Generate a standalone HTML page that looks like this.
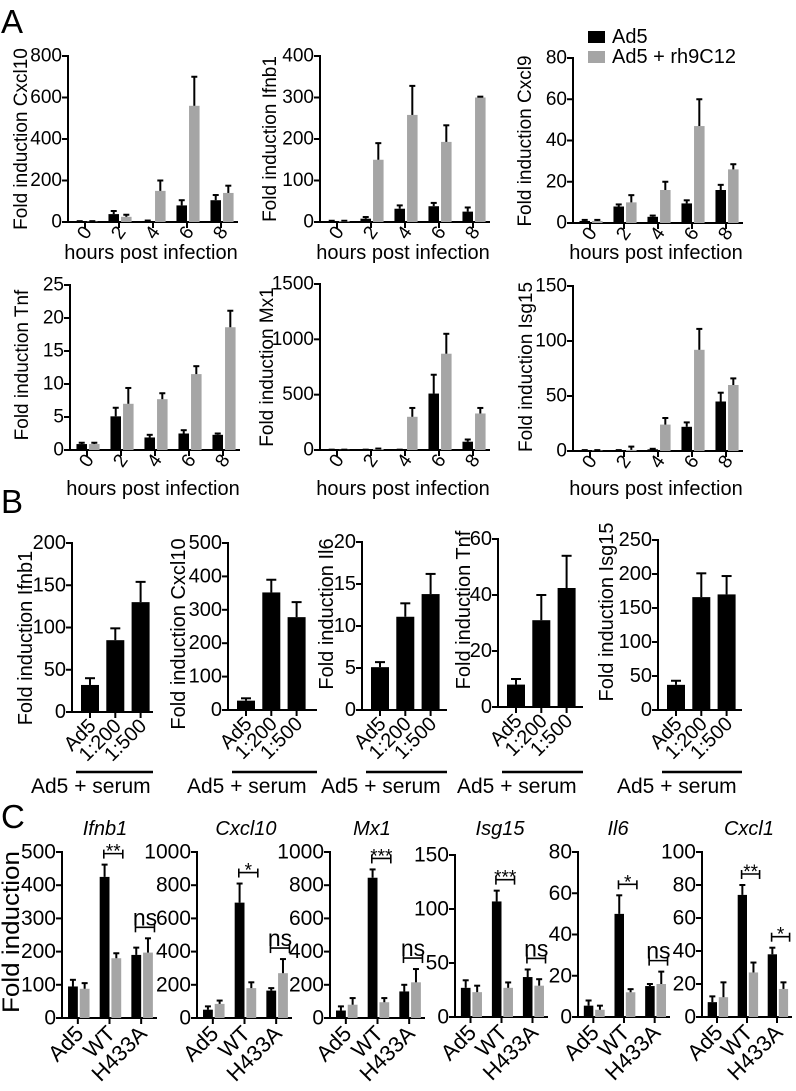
<!DOCTYPE html>
<html><head><meta charset="utf-8">
<style>
html,body{margin:0;padding:0;background:#fff;}
svg{display:block;font-family:"Liberation Sans",Arial,sans-serif;}
</style></head>
<body>
<svg id="fig" width="796" height="1091" viewBox="0 0 796 1091" xmlns="http://www.w3.org/2000/svg">
<rect width="796" height="1091" fill="#fff"/>
<text x="1" y="33" font-size="33">A</text>
<text x="1" y="513" font-size="33">B</text>
<text x="1" y="828" font-size="33">C</text>
<g>
<rect x="588" y="31" width="17" height="12" fill="#000"/>
<text x="612" y="43" font-size="20">Ad5</text>
<rect x="588" y="51" width="17" height="12" fill="#a5a5a5"/>
<text x="612" y="63" font-size="20">Ad5 + rh9C12</text>
</g>
</svg>
<script>
// ---------- data ----------
const hours = ['0','2','4','6','8'];
const A1_ad5 = [2,38,5,80,105];     const A1_ad5_err = [2,15,2,25,25];
const A1_rh  = [2,25,150,560,140];  const A1_rh_err  = [2,10,50,140,35];
const A2_ad5 = [2,8,32,38,25];      const A2_ad5_err = [1,4,8,8,10];
const A2_rh  = [2,150,258,193,300]; const A2_rh_err  = [1,40,70,40,2];
const A3_ad5 = [1,8,3,9.5,16];      const A3_ad5_err = [0.5,1,0.6,1.5,2.5];
const A3_rh  = [1,10,16,47,26];     const A3_rh_err  = [0.5,3.5,4,13,2.5];
const A4_ad5 = [0.9,5.1,1.9,2.5,2.3]; const A4_ad5_err = [0.2,1.3,0.4,0.5,0.2];
const A4_rh  = [0.9,7,7.7,11.5,18.6]; const A4_rh_err  = [0.2,2.4,0.9,1.2,2.5];
const A5_ad5 = [2,2,2,510,75];      const A5_ad5_err = [1,1,1,170,20];
const A5_rh  = [2,10,300,870,330];  const A5_rh_err  = [1,3,80,180,50];
const A6_ad5 = [0.5,0.5,1.5,22,45]; const A6_ad5_err = [0.3,0.3,0.5,4,8];
const A6_rh  = [0.5,1,24,92,60];    const A6_rh_err  = [0.3,3,6,19,6];

const serumCats = ['Ad5','1:200','1:500'];
const B1_vals = [32,85,130];   const B1_err = [8,14,24];
const B2_vals = [28,352,278];  const B2_err = [7,38,45];
const B3_vals = [5.1,11.1,13.8]; const B3_err = [0.6,1.6,2.4];
const B4_vals = [8,31,42.5];   const B4_err = [2,9,11.5];
const B5_vals = [37,166,170];  const B5_err = [6,35,27];

const virusCats = ['Ad5','WT','H433A'];
const C1_ad5 = [95,425,190];  const C1_ad5_err = [20,37,22];
const C1_rh  = [88,180,197];  const C1_rh_err  = [17,15,43];  const C1_sig = ['','**','ns'];
const C2_ad5 = [50,695,165];  const C2_ad5_err = [20,115,15];
const C2_rh  = [85,180,270];  const C2_rh_err  = [20,35,85];  const C2_sig = ['','*','ns'];
const C3_ad5 = [45,845,160];  const C3_ad5_err = [25,50,40];
const C3_rh  = [80,95,215];   const C3_rh_err  = [40,25,80];  const C3_sig = ['','***','ns'];
const C4_ad5 = [27,107,37];   const C4_ad5_err = [7,10,7];
const C4_rh  = [23,27,29];    const C4_rh_err  = [6,5,6];     const C4_sig = ['','***','ns'];
const C5_ad5 = [5.5,50,15];   const C5_ad5_err = [2.5,9,1];
const C5_rh  = [3.5,12,16];   const C5_rh_err  = [2,1.5,6];   const C5_sig = ['','*','ns'];
const C6_ad5 = [9,74,38];     const C6_ad5_err = [3.5,6,4];
const C6_rh  = [12,27,17];    const C6_rh_err  = [9,6,4];     const C6_sig = ['','**','*'];

// ---------- helpers ----------
const svg = document.getElementById('fig');
const NS = 'http://www.w3.org/2000/svg';
function mk(tag, attrs, parent){
  const e = document.createElementNS(NS, tag);
  for (const k in attrs) e.setAttribute(k, attrs[k]);
  (parent||svg).appendChild(e);
  return e;
}
function line(p, x1,y1,x2,y2,w){ return mk('line',{x1:x1,y1:y1,x2:x2,y2:y2,stroke:'#000','stroke-width':w||2},p); }
function text(p, x,y,s,fs,extra){
  const t = mk('text', Object.assign({x:x,y:y,'font-size':fs}, extra||{}), p);
  t.textContent = s;
  return t;
}

function axes(g, L, max, step, fs){
  const ys = v => L.zero - v/max*(L.zero-L.top);
  const ax = line(g, L.x0, L.top-1, L.x0, L.zero+1);
  
  
  const xa = line(g, L.x0-1, L.zero, L.x1, L.zero);
  
  
  for (let v=0; v<=max+1e-9; v+=step){
    const y = ys(v);
    line(g, L.x0-6, y, L.x0, y);
    const t = text(g, L.x0-6, y, String(Math.round(v*100)/100), fs, {'text-anchor':'end','dominant-baseline':'central'});
    
    
  }
  return ys;
}
function errBar(g, cx, yTop, yErr, cap){
  line(g, cx, yTop, cx, yErr);
  line(g, cx-cap, yErr, cx+cap, yErr);
}
function ytitle(g, s, x, cy, fs, len){
  const ex = {'text-anchor':'middle', transform:'rotate(-90 '+x+' '+cy+')'};
  if (len){ ex.textLength = len; ex.lengthAdjust = 'spacingAndGlyphs'; }
  const t = text(g, x, cy, s, fs, ex);
  
  
}

// grouped (black/grey) chart
function grouped(name, L, cats, blk, blkE, gry, gryE, max, step, o){
  const g = mk('g', {});
  
  
  const ys = axes(g, L, max, step, o.fs);
  const W = (L.x1 - L.x0)/cats.length;
  for (let i=0;i<cats.length;i++){
    const gx = L.x0 + i*W;
    const bx = gx + 0.19*W, bw = 0.31*W;
    const qx = gx + 0.56*W;
    const yb = ys(blk[i]);
    const r1 = mk('rect',{x:bx,y:yb,width:bw,height:L.zero-yb,fill:'#000'},g);
    
    
    errBar(g, bx+bw/2, yb, ys(blk[i]+blkE[i]), 3);
    const yg = ys(gry[i]);
    const r2 = mk('rect',{x:qx,y:yg,width:bw,height:L.zero-yg,fill:'#a5a5a5'},g);
    
    
    errBar(g, qx+bw/2, yg, ys(gry[i]+gryE[i]), 3);
    const cx = gx + W/2;
    line(g, cx, L.zero, cx, L.zero+6);
    let t;
    if (o.mode==='num'){
      t = text(g, cx, L.zero+11, cats[i], o.xfs, {'text-anchor':'middle','dominant-baseline':'central',transform:'rotate(-55 '+cx+' '+(L.zero+11)+')'});
    } else {
      t = text(g, cx+7, L.zero+17, cats[i], o.xfs, {'text-anchor':'end',transform:'rotate(-45 '+(cx+7)+' '+(L.zero+17)+')'});
    }
    
    
    if (o.sig && o.sig[i]){
      const top = Math.max(blk[i]+blkE[i], gry[i]+gryE[i]);
      const y = ys(top) - 11;
      const xa = gx+0.32*W, xb = gx+0.92*W;
      const bg = mk('g',{},g);
      
      
      line(bg, xa, y, xb, y, 1.6);
      line(bg, xa, y-4, xa, y+5, 1.6);
      line(bg, xb, y-4, xb, y+5, 1.6);
      const st = text(bg, (xa+xb)/2, o.sig[i]==='ns'? y-2 : y+4, o.sig[i], o.sig[i]==='ns'?23:19, {'text-anchor':'middle'});
      
      
    }
  }
  if (o.xtitle){
    const t = text(g, (L.x0+L.x1)/2 - 2, o.xty, o.xtitle, 20, {'text-anchor':'middle'});
    
    
  }
  if (o.ytitle) ytitle(g, o.ytitle, o.ytx, o.yty, o.ytfs, o.ytlen);
  if (o.gene){
    const t = text(g, o.genex, 835, o.gene, 20, {'text-anchor':'middle','font-style':'italic'});
    
    
  }
}

// single-series chart (panel B)
function single(name, L, cats, vals, errs, max, step, o){
  const g = mk('g', {});
  
  
  const ys = axes(g, L, max, step, 20);
  for (let i=0;i<cats.length;i++){
    const bx = L.x0 + 9 + i*25.3;
    const y = ys(vals[i]);
    const r = mk('rect',{x:bx,y:y,width:18,height:L.zero-y,fill:'#000'},g);
    
    
    errBar(g, bx+9, y, ys(vals[i]+errs[i]), 5);
    const cx = bx+9;
    line(g, cx, L.zero, cx, L.zero+6);
    const t = text(g, cx+7, L.zero+15, cats[i], 20, {'text-anchor':'end',transform:'rotate(-45 '+(cx+7)+' '+(L.zero+15)+')'});
    
    
  }
  line(g, L.x0+4, 772, L.x1, 772, 2.5);
  const t = text(g, L.x0-41, 793, 'Ad5 + serum', 21, {});
  
  
  ytitle(g, o.ytitle, o.ytx, o.yty, 20);
}

// ---------- layout & drawing ----------
const nm = {mode:'num', fs:19, xfs:19};
grouped('chart-cxcl10-timecourse', {x0:68,x1:238,top:56,zero:222}, hours, A1_ad5,A1_ad5_err,A1_rh,A1_rh_err, 800,200,
  Object.assign({xtitle:'hours post infection', xty:259, ytitle:'Fold induction Cxcl10', ytx:27, yty:139, ytfs:19}, nm));
grouped('chart-ifnb1-timecourse', {x0:320,x1:490,top:56,zero:222}, hours, A2_ad5,A2_ad5_err,A2_rh,A2_rh_err, 400,100,
  Object.assign({xtitle:'hours post infection', xty:259, ytitle:'Fold induction Ifnb1', ytx:276, yty:139, ytfs:19}, nm));
grouped('chart-cxcl9-timecourse', {x0:573,x1:743,top:58,zero:223}, hours, A3_ad5,A3_ad5_err,A3_rh,A3_rh_err, 80,20,
  Object.assign({xtitle:'hours post infection', xty:259, ytitle:'Fold induction Cxcl9', ytx:531, yty:141, ytfs:19}, nm));
grouped('chart-tnf-timecourse', {x0:70,x1:240,top:285,zero:450}, hours, A4_ad5,A4_ad5_err,A4_rh,A4_rh_err, 25,5,
  Object.assign({xtitle:'hours post infection', xty:495, ytitle:'Fold induction Tnf', ytx:28, yty:365, ytfs:19}, nm));
grouped('chart-mx1-timecourse', {x0:320,x1:490,top:284,zero:450}, hours, A5_ad5,A5_ad5_err,A5_rh,A5_rh_err, 1500,500,
  Object.assign({xtitle:'hours post infection', xty:495, ytitle:'Fold induction Mx1', ytx:273, yty:367, ytfs:19}, nm));
grouped('chart-isg15-timecourse', {x0:573,x1:743,top:286,zero:451}, hours, A6_ad5,A6_ad5_err,A6_rh,A6_rh_err, 150,50,
  Object.assign({xtitle:'hours post infection', xty:495, ytitle:'Fold induction Isg15', ytx:532, yty:367, ytfs:19}, nm));

single('chart-ifnb1-serum', {x0:72,x1:153,top:543,zero:712}, serumCats, B1_vals, B1_err, 200,50, {ytitle:'Fold induction Ifnb1', ytx:32, yty:638});
single('chart-cxcl10-serum', {x0:228,x1:317,top:543,zero:710}, serumCats, B2_vals, B2_err, 500,100, {ytitle:'Fold induction Cxcl10', ytx:185, yty:634});
single('chart-il6-serum', {x0:362,x1:447,top:542,zero:710}, serumCats, B3_vals, B3_err, 20,5, {ytitle:'Fold induction Il6', ytx:333, yty:614});
single('chart-tnf-serum', {x0:498,x1:583,top:539,zero:707}, serumCats, B4_vals, B4_err, 60,20, {ytitle:'Fold induction Tnf', ytx:470, yty:610});
single('chart-isg15-serum', {x0:658,x1:742,top:540,zero:710}, serumCats, B5_vals, B5_err, 250,50, {ytitle:'Fold induction Isg15', ytx:613, yty:612});

const cm = {mode:'cat', fs:21, xfs:22};
grouped('chart-ifnb1-mutant', {x0:62,x1:157,top:852,zero:1018}, virusCats, C1_ad5,C1_ad5_err,C1_rh,C1_rh_err, 500,100,
  Object.assign({sig:C1_sig, gene:'Ifnb1', genex:105, ytitle:'Fold induction', ytx:19, yty:932, ytfs:24, ytlen:162}, cm));
grouped('chart-cxcl10-mutant', {x0:197,x1:292,top:852,zero:1018}, virusCats, C2_ad5,C2_ad5_err,C2_rh,C2_rh_err, 1000,200,
  Object.assign({sig:C2_sig, gene:'Cxcl10', genex:246}, cm));
grouped('chart-mx1-mutant', {x0:330,x1:425,top:852,zero:1018}, virusCats, C3_ad5,C3_ad5_err,C3_rh,C3_rh_err, 1000,200,
  Object.assign({sig:C3_sig, gene:'Mx1', genex:372}, cm));
grouped('chart-isg15-mutant', {x0:455,x1:548,top:855,zero:1017}, virusCats, C4_ad5,C4_ad5_err,C4_rh,C4_rh_err, 150,50,
  Object.assign({sig:C4_sig, gene:'Isg15', genex:500}, cm));
grouped('chart-il6-mutant', {x0:578,x1:670,top:852,zero:1017}, virusCats, C5_ad5,C5_ad5_err,C5_rh,C5_rh_err, 80,20,
  Object.assign({sig:C5_sig, gene:'Il6', genex:618}, cm));
grouped('chart-cxcl1-mutant', {x0:702,x1:792,top:852,zero:1017}, virusCats, C6_ad5,C6_ad5_err,C6_rh,C6_rh_err, 100,20,
  Object.assign({sig:C6_sig, gene:'Cxcl1', genex:749}, cm));
</script>
</body></html>
